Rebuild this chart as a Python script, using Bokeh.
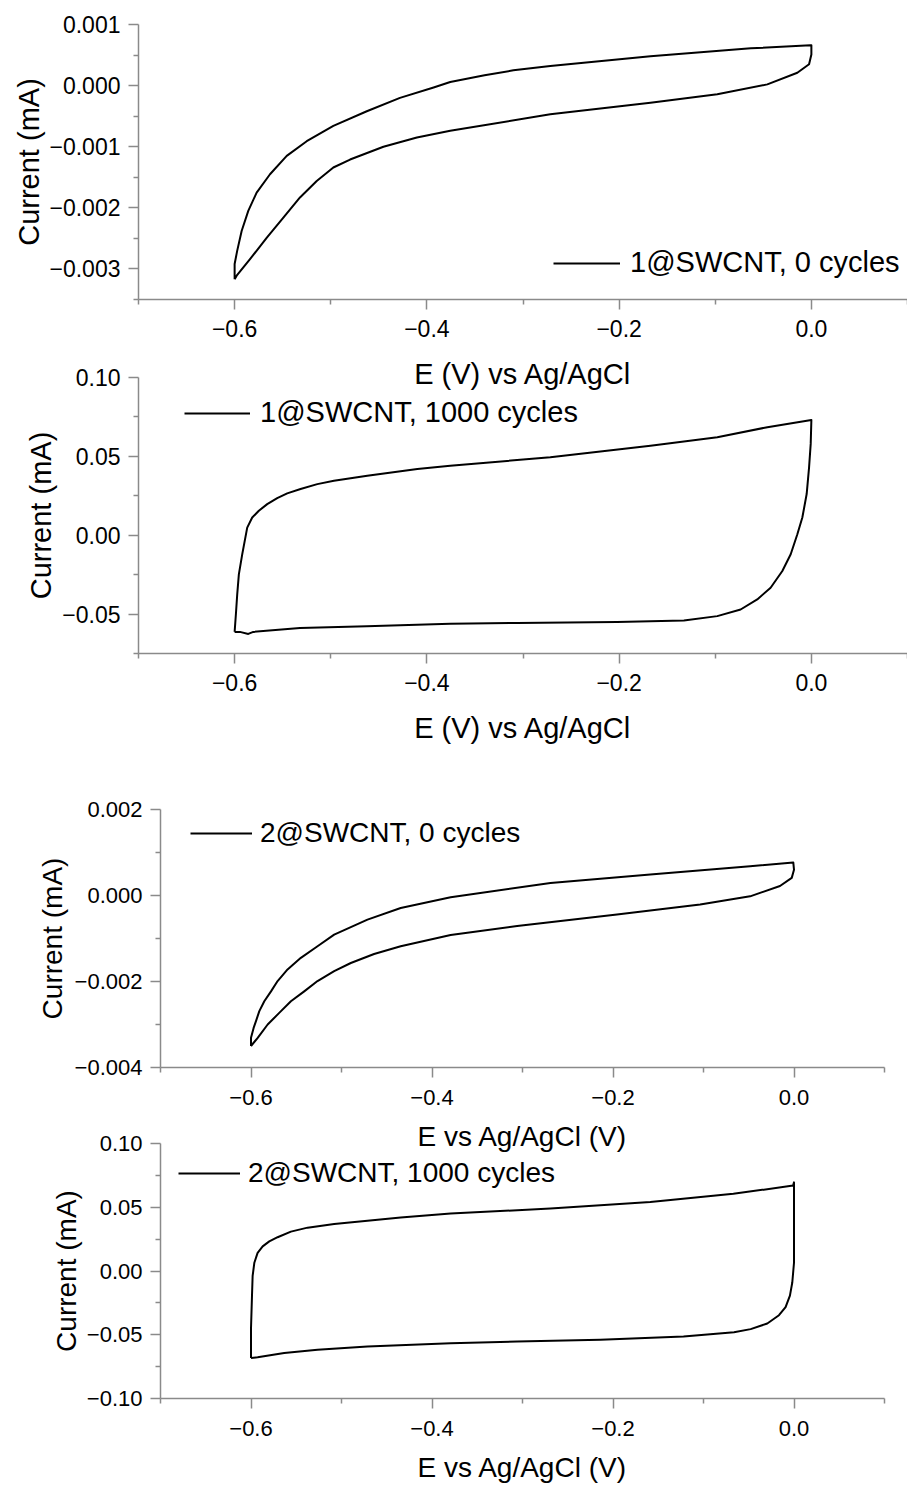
from bokeh.plotting import figure
from bokeh.models import Range1d, FixedTicker, CustomJSTickFormatter, Legend, LegendItem
from bokeh.layouts import column
from bokeh.embed import file_html
from bokeh.resources import INLINE

# ---------------- data ----------------
x_range_v = [-0.7, 0.1]
x_major = [-0.6, -0.4, -0.2, 0.0]
x_minor = [-0.7, -0.5, -0.3, -0.1, 0.1]

# Panel 1: 1@SWCNT, 0 cycles
e1 = [-0.600, -0.600, -0.5973, -0.5927, -0.5858, -0.5771, -0.5632, -0.5458, -0.525, -0.4973,
      -0.4625, -0.428, -0.393, -0.3757, -0.34, -0.31, -0.2716, -0.1674, -0.063, -0.001, 0.000,
      0.000, -0.0024, -0.0146, -0.0458, -0.0979, -0.1674, -0.2716, -0.3757, -0.4104, -0.4452,
      -0.4799, -0.4973, -0.5146, -0.532, -0.5493, -0.5667, -0.584, -0.5979, -0.600]
i1 = [-0.00317, -0.00292, -0.00270, -0.00238, -0.00205, -0.00175, -0.00145, -0.00115, -0.00091,
      -0.00066, -0.00042, -0.00020, -0.00003, 0.00006, 0.00017, 0.00025, 0.00032, 0.00048,
      0.00061, 0.00066, 0.00066, 0.00051, 0.00035, 0.00021, 0.00002, -0.00014, -0.00028,
      -0.00047, -0.00074, -0.00085, -0.00100, -0.00121, -0.00134, -0.00156, -0.00183,
      -0.00216, -0.00249, -0.00284, -0.00311, -0.00317]

# Panel 2: 1@SWCNT, 1000 cycles
e2 = [-0.600, -0.5987, -0.5973, -0.5956, -0.5921, -0.5869, -0.5817, -0.5748, -0.5661, -0.5557,
      -0.5453, -0.5314, -0.514, -0.4967, -0.462, -0.4099, -0.3757, -0.2716, -0.1674, -0.0979,
      -0.0458, 0.000, -0.0007, -0.0024, -0.0049, -0.0094, -0.0146, -0.0215, -0.0302, -0.0424,
      -0.0563, -0.0736, -0.0979, -0.1326, -0.2021, -0.3063, -0.3757, -0.4625, -0.532, -0.5806,
      -0.5858, -0.5945, -0.600]
i2 = [-0.0613, -0.0503, -0.0375, -0.0248, -0.0121, 0.0048, 0.0112, 0.0155, 0.0197, 0.0235,
      0.0265, 0.0293, 0.0324, 0.0345, 0.0377, 0.0420, 0.0441, 0.0494, 0.0568, 0.0621,
      0.0685, 0.0731, 0.0579, 0.0430, 0.0261, 0.0112, 0.0006, -0.0121, -0.0227, -0.0333,
      -0.0407, -0.0471, -0.0513, -0.0541, -0.0550, -0.0556, -0.0562, -0.0577, -0.0588, -0.0613,
      -0.0626, -0.0613, -0.0613]

# Panel 3: 2@SWCNT, 0 cycles
e3 = [-0.600, -0.600, -0.5971, -0.5945, -0.5908, -0.5853, -0.5779, -0.5706, -0.5596, -0.5449,
      -0.5265, -0.5081, -0.4713, -0.4346, -0.3794, -0.2691, -0.1588, -0.0485, -0.0008, 0.000,
      -0.0025, -0.0155, -0.0485, -0.1037, -0.1956, -0.3059, -0.3794, -0.4346, -0.464, -0.4897,
      -0.5081, -0.5265, -0.5412, -0.5559, -0.5688, -0.5816, -0.5926, -0.600]
i3 = [-0.00350, -0.00331, -0.00308, -0.00292, -0.00269, -0.00246, -0.00223, -0.00199,
      -0.00172, -0.00145, -0.00118, -0.00091, -0.00056, -0.00029, -0.00004, 0.00029, 0.00049,
      0.00068, 0.00077, 0.00060, 0.00041, 0.00022, -0.00002, -0.00021, -0.00044, -0.00071,
      -0.00092, -0.00118, -0.00136, -0.00157, -0.00176, -0.00199, -0.00223, -0.00246,
      -0.00273, -0.00300, -0.00331, -0.00350]

# Panel 4: 2@SWCNT, 1000 cycles
e4 = [-0.600, -0.600, -0.5989, -0.5982, -0.5963, -0.5927, -0.5871, -0.5798, -0.5706, -0.5559,
      -0.5375, -0.5081, -0.4713, -0.4346, -0.3794, -0.2691, -0.1588, -0.067, -0.001, 0.000,
      0.000, 0.000, -0.0019, -0.0045, -0.0093, -0.0166, -0.0295, -0.0479, -0.0663, -0.1221,
      -0.214, -0.3059, -0.3794, -0.4713, -0.5265, -0.5633, -0.5927, -0.600]
i4 = [-0.0682, -0.0451, -0.0193, -0.0039, 0.0065, 0.0142, 0.0193, 0.0232, 0.0265, 0.0309,
      0.0340, 0.0368, 0.0394, 0.0420, 0.0451, 0.0490, 0.0541, 0.0605, 0.0670, 0.0695,
      0.0322, 0.0065, -0.0090, -0.0193, -0.0283, -0.0347, -0.0412, -0.0456, -0.0481, -0.0514,
      -0.0540, -0.0553, -0.0566, -0.0592, -0.0618, -0.0643, -0.0677, -0.0682]

labels = ["1@SWCNT, 0 cycles", "1@SWCNT, 1000 cycles", "2@SWCNT, 0 cycles", "2@SWCNT, 1000 cycles"]
x_titles = ["E (V) vs Ag/AgCl", "E (V) vs Ag/AgCl", "E vs Ag/AgCl (V)", "E vs Ag/AgCl (V)"]
y_title = "Current (mA)"

y_ranges = [[-0.0035, 0.001], [-0.075, 0.10], [-0.004, 0.002], [-0.10, 0.10]]
y_majors = [[-0.003, -0.002, -0.001, 0.0, 0.001], [-0.05, 0.0, 0.05, 0.10],
            [-0.004, -0.002, 0.0, 0.002], [-0.10, -0.05, 0.0, 0.05, 0.10]]
y_minors = [[-0.0035, -0.0025, -0.0015, -0.0005, 0.0005], [-0.075, -0.025, 0.025, 0.075],
            [-0.003, -0.001, 0.001], [-0.075, -0.025, 0.025, 0.075]]
y_decimals = [3, 2, 3, 2]

FONT = "Liberation Sans"
GREY = "#8a8a8a"


def fmt(dec):
    return CustomJSTickFormatter(code="return tick.toFixed(%d).replace('-', '\u2212');" % dec)


def make_panel(k, e, i, height, left, right, top, bottom, margin, tick_fs, title_fs, leg_fs,
               leg_loc, glyph_w, leg_standoff, x_std, y_std):
    p = figure(width=907, height=height, output_backend="svg", toolbar_location=None,
               x_range=Range1d(x_range_v[0], x_range_v[1]),
               y_range=Range1d(y_ranges[k][0], y_ranges[k][1]),
               min_border_left=left, min_border_right=right, min_border_top=top,
               min_border_bottom=bottom, background_fill_alpha=0, border_fill_alpha=0,
               outline_line_color=None, margin=margin)
    p.frame_align = False
    p.grid.visible = False
    r = p.line(e, i, line_color="black", line_width=2, line_join="round")

    p.xaxis.ticker = FixedTicker(ticks=x_major, minor_ticks=x_minor)
    p.xaxis.formatter = fmt(1)
    p.yaxis.ticker = FixedTicker(ticks=y_majors[k], minor_ticks=y_minors[k])
    p.yaxis.formatter = fmt(y_decimals[k])
    p.xaxis.axis_label = x_titles[k]
    p.yaxis.axis_label = y_title
    for ax in (p.xaxis, p.yaxis):
        ax.axis_line_color = GREY
        ax.axis_line_width = 1.5
        ax.major_tick_line_color = GREY
        ax.major_tick_line_width = 1.5
        ax.minor_tick_line_color = GREY
        ax.minor_tick_line_width = 1.5
        ax.major_tick_out = 10
        ax.major_tick_in = 0
        ax.minor_tick_out = 5
        ax.minor_tick_in = 0
        ax.major_label_text_font = FONT
        ax.major_label_text_font_size = tick_fs
        ax.major_label_text_color = "black"
        ax.axis_label_text_font = FONT
        ax.axis_label_text_font_size = title_fs
        ax.axis_label_text_font_style = "normal"
        ax.axis_label_text_color = "black"
    p.xaxis.major_label_standoff = x_std[0]
    p.xaxis.axis_label_standoff = x_std[1]
    p.yaxis.major_label_standoff = y_std[0]
    p.yaxis.axis_label_standoff = y_std[1]

    legend = Legend(items=[LegendItem(label=labels[k], renderers=[r])], location=leg_loc,
                    border_line_color=None, background_fill_alpha=0, padding=0, margin=0,
                    glyph_width=glyph_w, glyph_height=20, label_standoff=leg_standoff,
                    label_text_font=FONT, label_text_font_size=leg_fs,
                    label_text_color="black")
    p.add_layout(legend)
    return p


p1 = make_panel(0, e1, i1, 400, 138, 0, 24, 101, (0, 0, 0, 0), "23px", "29px", "29px",
                (415, 20), 67, 10, (10, 18), (8, 2))
p2 = make_panel(1, e2, i2, 408, 138, 0, 25, 107, (-48, 0, 0, 0), "23px", "29px", "29px",
                (46, 224), 66, 10, (10, 18), (8, 2))
p3 = make_panel(2, e3, i3, 400, 160, 23, 49, 93, (0, 0, 0, 0), "22px", "28px", "28px",
                (30, 218), 62, 8, (12, 13), (8, 4))
p4 = make_panel(3, e4, i4, 367, 160, 23, 25, 83, (-42, 0, 0, 0), "22px", "28px", "28px",
                (18, 209), 62, 8, (12, 13), (8, 2))

layout = column(p1, p2, p3, p4, spacing=0)
open("out.html", "w").write(file_html(layout, INLINE))
